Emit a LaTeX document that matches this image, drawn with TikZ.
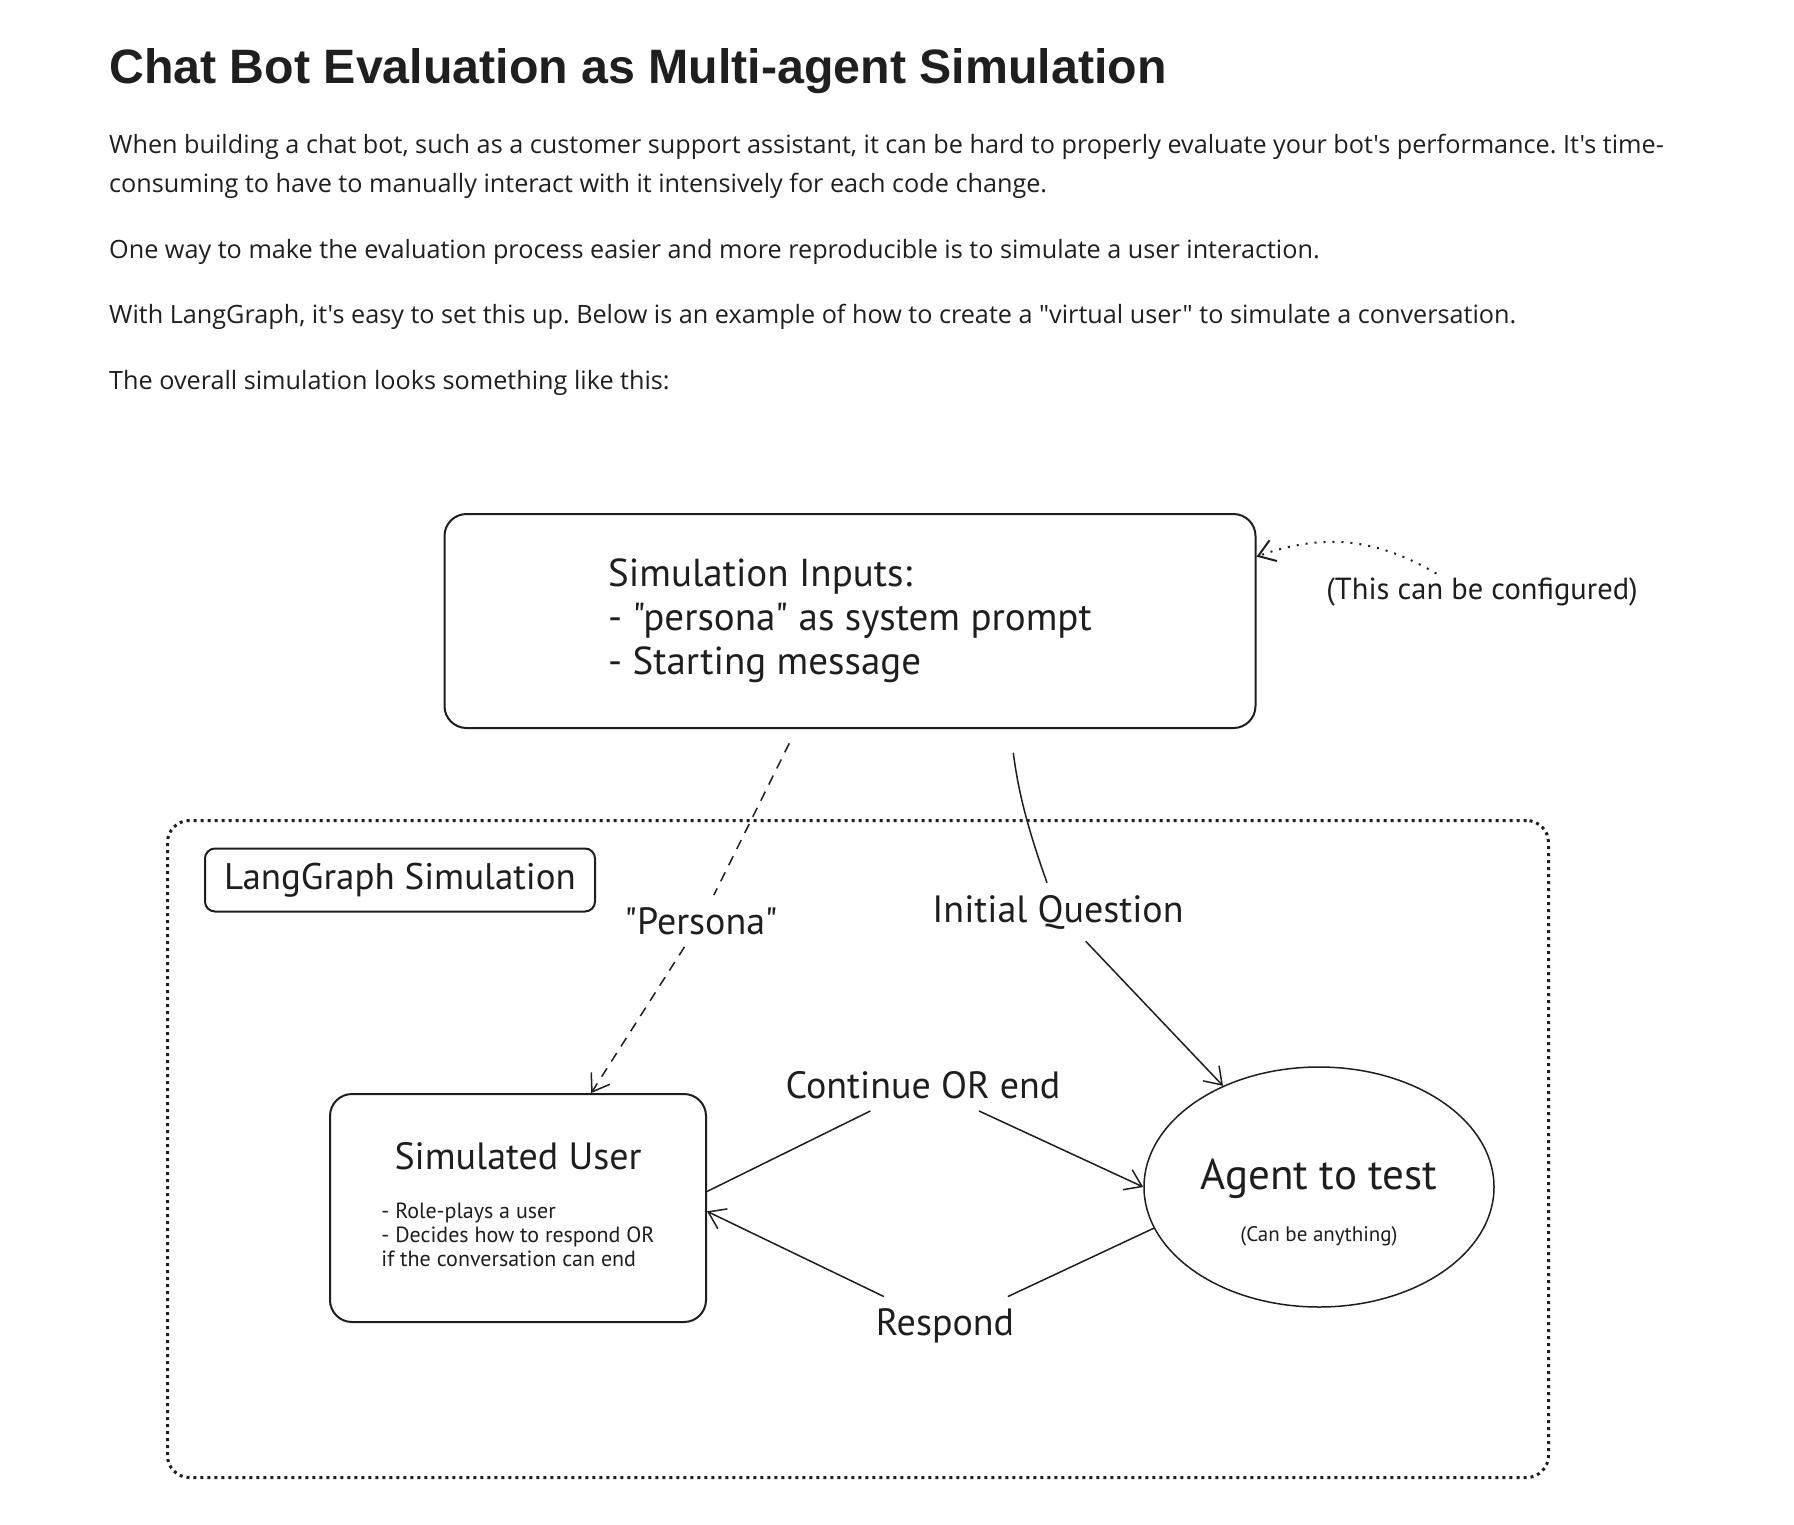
\documentclass[tikz,border=0pt]{standalone}
\usepackage{fontspec}
\newfontfamily\bodyfont{Open Sans}
\newfontfamily\headfont{Liberation Sans}
\newfontfamily\hand{PT Sans}
\usetikzlibrary{arrows.meta, shapes.geometric}
\definecolor{ink}{HTML}{1E1E1E}
\definecolor{prose}{HTML}{1F1F1F}
\frenchspacing
\tikzstyle{heading} = [anchor=base west, inner sep=0pt, text=prose, font=\headfont\bfseries\fontsize{48.3}{56}\selectfont]
\tikzstyle{para} = [anchor=base west, inner sep=0pt, text=prose, font=\bodyfont\fontsize{25.2}{30}\selectfont]
\tikzstyle{box} = [draw=ink, line width=2pt, rounded corners=22pt, text=ink]
\tikzstyle{frame} = [draw=ink, line width=3pt, dash pattern=on 3pt off 4pt, rounded corners=22pt]
\tikzstyle{label} = [text=ink, inner sep=12pt, font=\hand\fontsize{38}{44}\selectfont]
\tikzstyle{link} = [draw=ink, line width=1.5pt]
\tikzstyle{arrow} = [link, -{Straight Barb[length=16pt, width=22pt]}]
\tikzstyle{broken} = [dash pattern=on 10pt off 8pt]

\begin{document}
\begin{tikzpicture}[x=1pt, y=-1pt]
	\fill[white](0, 0) rectangle (1794, 1524);
	\useasboundingbox (0, 0) rectangle (1794, 1524);

	\node[heading](title) at (109, 83){Chat Bot Evaluation as Multi-agent Simulation};
	\node[para](introa) at (109, 153){When building a chat bot, such as a customer support assistant, it can be hard to properly evaluate your bot's performance. It's time-};
	\node[para](introb) at (109, 192){consuming to have to manually interact with it intensively for each code change.};
	\node[para](idea) at (109, 258){One way to make the evaluation process easier and more reproducible is to simulate a user interaction.};
	\node[para](setup) at (109, 323){With LangGraph, it's easy to set this up. Below is an example of how to create a "virtual user" to simulate a conversation.};
	\node[para](overall) at (109, 389){The overall simulation looks something like this:};

	\node[frame, minimum width=1381pt, minimum height=657pt](sim) at (858, 1149){};
	\node[box, rounded corners=10pt, minimum width=390pt, minimum height=63pt, font=\hand\fontsize{37}{42}\selectfont](lgbox) at (400, 880){LangGraph Simulation};

	\node[box, minimum width=811pt, minimum height=214pt, align=left, font=\hand\fontsize{39}{44}\selectfont](inputs) at (850, 621){Simulation Inputs:\\- "persona" as system prompt\\- Starting message};
	\node[label, font=\hand\fontsize{30.5}{36}\selectfont, inner sep=4pt](note) at (1482, 592){(This can be configured)};

	\node[box, minimum width=376pt, minimum height=228pt, align=center, font=\hand\fontsize{38}{44}\selectfont](user) at (518, 1208){Simulated User\\[30pt]{\fontsize{22}{24}\selectfont\begin{tabular}{@{}l@{}}- Role-plays a user\\- Decides how to respond OR\\if the conversation can end\end{tabular}}};
	\node[box, ellipse, line width=1.5pt, minimum width=350pt, minimum height=240pt, align=center, font=\hand\fontsize{43}{48}\selectfont](agent) at (1319, 1187){\rule{0pt}{62pt}Agent to test\\[4pt]{\fontsize{21}{24}\selectfont(Can be anything)}};

	\node[label](persona) at (701, 921){"Persona"};
	\node[label](question) at (1058, 912){Initial Question};
	\node[label](cont) at (923, 1085){Continue OR end};
	\node[label](resp) at (945, 1326){Respond};

	\draw[link, broken, shorten <=16pt](inputs) -- (persona);
	\draw[arrow, broken](persona) -- (user);
	\draw[link, shorten <=24pt](inputs.-34) to[bend right=6] (question);
	\draw[arrow](question) -- (agent);
	\draw[link](user.5) -- (cont);
	\draw[arrow](cont) -- (agent.west);
	\draw[link](agent.194) -- (resp);
	\draw[arrow](resp) -- (user.-1);
	\draw[arrow, line width=2pt, dash pattern=on 2pt off 7pt](note.158) to[bend right=25] (inputs.9);
\end{tikzpicture}
\end{document}
